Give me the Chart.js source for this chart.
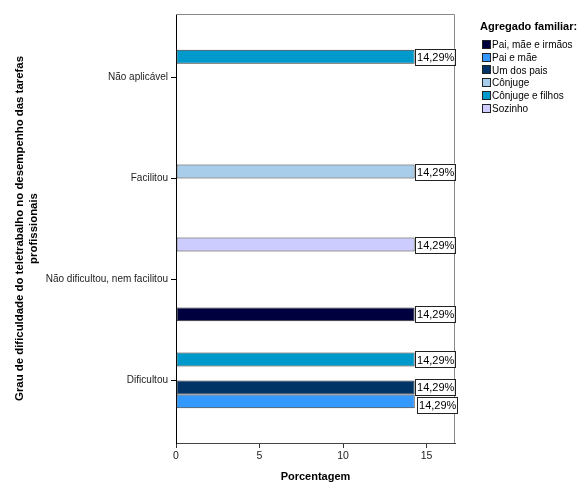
<!DOCTYPE html>
<html>
<head>
<meta charset="utf-8">
<script src="https://cdn.jsdelivr.net/npm/chart.js@4"></script>
<style>
  body { margin: 0; background: #fff; }
  canvas { display: block; }
</style>
</head>
<body>
<canvas id="grafica" width="579" height="484"></canvas>
<script>
// categorias de cima para baixo
const categorias = ['Não aplicável', 'Facilitou', 'Não dificultou, nem facilitou', 'Dificultou'];

// porcentagem por agregado familiar (mesma ordem das categorias, 0 = sem barra)
const paiMaeIrmaos   = [0, 0, 14.29, 0];
const paiEMae        = [0, 0, 0, 14.29];
const umDosPais      = [0, 0, 0, 14.29];
const conjuge        = [0, 14.29, 0, 0];
const conjugeEFilhos = [14.29, 0, 0, 14.29];
const sozinho        = [0, 0, 14.29, 0];

const ticksX = [0, 5, 10, 15];

const fonte = "Arial, 'Liberation Sans', sans-serif";

// ordem da legenda
const grupos = [
  { label: 'Pai, mãe e irmãos', color: '#00003f', valores: paiMaeIrmaos },
  { label: 'Pai e mãe', color: '#3399ff', valores: paiEMae },
  { label: 'Um dos pais', color: '#003366', valores: umDosPais },
  { label: 'Cônjuge', color: '#a8cdea', valores: conjuge },
  { label: 'Cônjuge e filhos', color: '#0099cc', valores: conjugeEFilhos },
  { label: 'Sozinho', color: '#ccccff', valores: sozinho }
];

// no gráfico a ordem das barras é a inversa da legenda
const datasets = grupos.slice().reverse().map(g => ({
  label: g.label,
  backgroundColor: g.color,
  borderColor: '#333',
  borderWidth: 1,
  borderSkipped: false,
  data: g.valores.map((v, i) => v ? { x: v, y: i } : null).filter(Boolean)
}));

// moldura da área do gráfico
const moldura = {
  id: 'moldura',
  beforeDatasetsDraw(chart) {
    const a = chart.chartArea;
    const ctx = chart.ctx;
    ctx.save();
    ctx.strokeStyle = '#888';
    ctx.lineWidth = 1;
    ctx.beginPath();
    ctx.moveTo(a.left, a.top + 0.5);
    ctx.lineTo(a.right - 0.5, a.top + 0.5);
    ctx.lineTo(a.right - 0.5, a.bottom);
    ctx.stroke();
    ctx.restore();
  }
};

// rótulos "14,29%" em caixa branca no fim de cada barra
const rotulos = {
  id: 'rotulos',
  afterDatasetsDraw(chart) {
    const ctx = chart.ctx;
    const caixas = [];
    chart.data.datasets.forEach((ds, i) => {
      const meta = chart.getDatasetMeta(i);
      meta.data.forEach((el, j) => {
        const v = ds.data[j].x;
        caixas.push({ x: el.x, y: el.y - 8, texto: v.toFixed(2).replace('.', ',') + '%' });
      });
    });
    caixas.sort((a, b) => a.y - b.y);
    for (let k = 1; k < caixas.length; k++) {
      const ant = caixas[k - 1];
      if (caixas[k].y < ant.y + 17) {
        caixas[k].y = ant.y + 18;
        caixas[k].x += 2;
      }
    }
    ctx.save();
    ctx.font = '11px ' + fonte;
    ctx.textBaseline = 'middle';
    ctx.textAlign = 'center';
    caixas.forEach(c => {
      const w = 40, h = 16;
      ctx.fillStyle = '#fff';
      ctx.fillRect(c.x, c.y, w, h);
      ctx.strokeStyle = '#222';
      ctx.lineWidth = 1;
      ctx.strokeRect(Math.round(c.x) + 0.5, Math.round(c.y) + 0.5, w, h);
      ctx.fillStyle = '#000';
      ctx.fillText(c.texto, c.x + w / 2 + 1, c.y + h / 2 + 1);
    });
    ctx.restore();
  }
};

// legenda à direita
const legenda = {
  id: 'legenda',
  afterDraw(chart) {
    const ctx = chart.ctx;
    const x = 482;
    ctx.save();
    ctx.fillStyle = '#000';
    ctx.textBaseline = 'middle';
    ctx.textAlign = 'left';
    ctx.font = 'bold 11px ' + fonte;
    ctx.fillText('Agregado familiar:', 480, 27);
    ctx.font = '10px ' + fonte;
    grupos.forEach((g, i) => {
      const y = 44.5 + i * 12.7;
      const top = Math.round(y - 4.5);
      ctx.fillStyle = g.color;
      ctx.fillRect(x, top, 9, 9);
      ctx.strokeStyle = '#222';
      ctx.strokeRect(x + 0.5, top + 0.5, 8, 8);
      ctx.fillStyle = '#000';
      ctx.fillText(g.label, x + 10, y + 1);
    });
    ctx.restore();
  }
};

new Chart(document.getElementById('grafica').getContext('2d'), {
  type: 'bar',
  data: { datasets },
  options: {
    indexAxis: 'y',
    responsive: false,
    animation: false,
    categoryPercentage: 0.83,
    barPercentage: 1,
    layout: { padding: { left: 6, top: 14, right: 124, bottom: 0 } },
    plugins: {
      legend: { display: false },
      tooltip: { enabled: false }
    },
    scales: {
      x: {
        type: 'linear',
        min: 0,
        max: 16.7,
        afterFit(scale) { scale.height = 41; },
        afterBuildTicks(scale) { scale.ticks = ticksX.map(v => ({ value: v })); },
        ticks: { color: '#222', font: { family: fonte, size: 10.5 }, padding: 2 },
        grid: { drawOnChartArea: false, tickLength: 5, color: '#333' },
        border: { color: '#444' },
        title: {
          display: true, text: 'Porcentagem', color: '#000',
          font: { family: fonte, size: 11, weight: 'bold' },
          padding: { top: 0, bottom: 0 }
        }
      },
      y: {
        type: 'linear',
        reverse: true,
        offset: false,
        min: -0.63,
        max: 3.62,
        afterFit(scale) { scale.width = 170; },
        afterBuildTicks(scale) { scale.ticks = categorias.map((c, i) => ({ value: i })); },
        ticks: {
          color: '#222', font: { family: fonte, size: 10 }, padding: 3,
          callback: v => categorias[v]
        },
        grid: { offset: false, drawOnChartArea: false, tickLength: 5, color: '#000' },
        border: { color: '#000' },
        title: {
          display: true,
          text: ['Grau de dificuldade do teletrabalho no desempenho das tarefas', 'profissionais'],
          color: '#000',
          font: { family: fonte, size: 11.4, weight: 'bold' },
          padding: { top: 7, bottom: 0 }
        }
      }
    }
  },
  plugins: [moldura, rotulos, legenda]
});
</script>
</body>
</html>
